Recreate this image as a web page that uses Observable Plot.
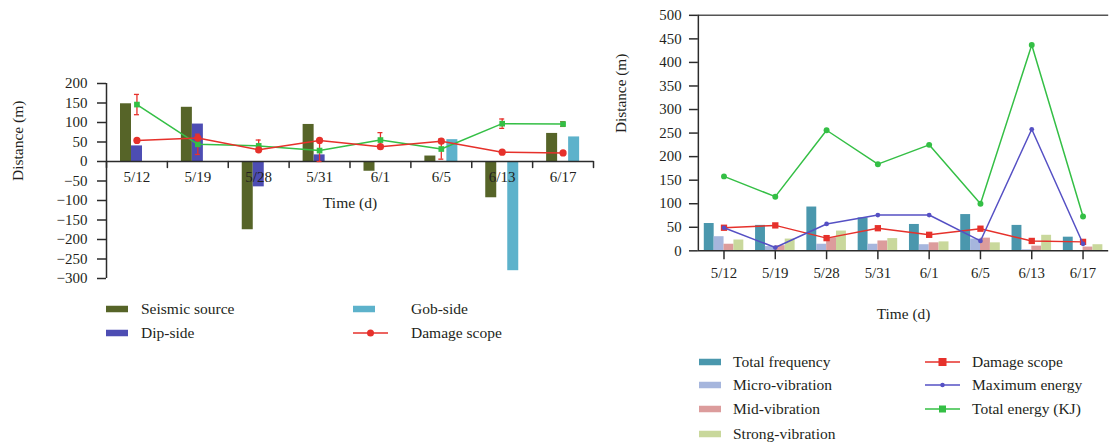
<!DOCTYPE html>
<html>
<head>
<meta charset="utf-8">
<script src="https://cdn.jsdelivr.net/npm/d3@7"></script>
<script src="https://cdn.jsdelivr.net/npm/@observablehq/plot@0.6"></script>
<style>
  html, body { margin: 0; padding: 0; background: #fff; overflow: hidden; }
  #wrap { position: relative; width: 1109px; height: 445px; overflow: hidden;
          font-family: "Liberation Serif", "Times New Roman", serif; color: #231f20; }
  #left, #right { position: absolute; top: 0; }
  #left { left: 0; }
  #right { left: 600px; }
  .sw { position: absolute; transform: translateY(-50%); display: block; }
  .lab { position: absolute; transform: translateY(-50%); font-size: 15.5px; line-height: 1; white-space: nowrap; }
</style>
</head>
<body>
<div id="wrap">
  <div id="left"></div>
  <div id="right"></div>
  <div id="legendLeft"></div>
  <div id="legendRight"></div>
</div>
<script>
// Monitoring dates shared by both panels
const dates = ["5/12", "5/19", "5/28", "5/31", "6/1", "6/5", "6/13", "6/17"];

// Left panel: source location offsets (m)
const seismicSource = [148, 139, -175, 95, -25, 14, -93, 72];
const dipSide       = [40, 96, -65, 17, 0, 0, 0, 0];
const gobSide       = [0, 0, 0, 0, 0, 56, -280, 63];
const damageScope   = [54, 60, 30, 54, 38, 52, 24, 22];
const meanDistance  = [146, 44, 40, 28, 55, 32, 97, 96];
const meanError     = [26, 26, 15, 28, 19, 26, 12, 6];

// Right panel: microseismic statistics
const totalFrequency  = [58, 54, 93, 70, 56, 77, 54, 29];
const microVibration  = [30, 9, 14, 14, 13, 25, 2, 0];
const midVibration    = [14, 11, 28, 21, 17, 27, 10, 8];
const strongVibration = [23, 25, 42, 26, 19, 17, 33, 13];
const damageScope2    = [49, 54, 27, 48, 34, 47, 21, 19];
const maximumEnergy   = [49, 7, 57, 76, 76, 21, 258, 15];
const totalEnergy     = [158, 115, 256, 184, 225, 100, 437, 73];

const C = {
  seismic: "#566428", dip: "#4d4db3", gob: "#5db2cb",
  red: "#e6312b", green: "#34bf45", blue: "#5550c4",
  total: "#4a97ad", micro: "#a6b6dd", mid: "#dc9c9c", strong: "#c9d89c",
  axis: "#2b2b2b"
};
const FONT = "Liberation Serif, Times New Roman, serif";

// ---------- Left panel ----------
const leftRows = dates.map((date, i) => ({
  date, seismic: seismicSource[i], dip: dipSide[i], gob: gobSide[i],
  damage: damageScope[i], mean: meanDistance[i], err: meanError[i]
}));
const LW = 600, LML = 106, LMR = 7;
const LBW = (LW - LML - LMR) / dates.length;
const tickShape = { draw(context, l) { context.moveTo(0, 0); context.lineTo(0, -l); } };

const left = Plot.plot({
  width: LW, height: 290,
  marginLeft: LML, marginRight: LMR, marginTop: 83, marginBottom: 12,
  style: { fontFamily: FONT, fontSize: "15px", color: "#231f20", background: "transparent" },
  x: { type: "band", domain: dates, padding: 0, round: false, axis: null },
  y: { domain: [-300, 200], axis: null },
  marks: [
    Plot.barY(leftRows.filter(d => d.seismic !== 0), { x: "date", y: "seismic", fill: C.seismic, insetLeft: 14, insetRight: LBW - 25 }),
    Plot.barY(leftRows.filter(d => d.dip !== 0), { x: "date", y: "dip", fill: C.dip, insetLeft: 25, insetRight: LBW - 36 }),
    Plot.barY(leftRows.filter(d => d.gob !== 0), { x: "date", y: "gob", fill: C.gob, insetLeft: 36, insetRight: LBW - 47 }),
    Plot.ruleY([0], { stroke: C.axis, strokeWidth: 1.5 }),
    Plot.ruleX([dates[0]], { x: d => d, y1: -300, y2: 200, dx: -LBW / 2, stroke: C.axis, strokeWidth: 1.5 }),
    Plot.axisY({ ticks: d3.range(-300, 201, 50), tickSize: 9, tickPadding: 10, label: null, stroke: C.axis, strokeWidth: 1.5 }),
    Plot.vector(dates, { x: d => d, y: () => 0, length: 6, rotate: 180, anchor: "start", dx: -LBW / 2, shape: tickShape, stroke: C.axis, strokeWidth: 1.5 }),
    Plot.vector([dates[dates.length - 1]], { x: d => d, y: () => 0, length: 6, rotate: 180, anchor: "start", dx: LBW / 2, shape: tickShape, stroke: C.axis, strokeWidth: 1.5 }),
    Plot.text(dates, { x: d => d, y: () => 0, dy: 16, text: d => d }),
    Plot.text(["Time (d)"], { y: () => 0, dy: 42, frameAnchor: "middle", text: d => d, fontSize: 15.5 }),
    Plot.text(["Distance (m)"], { frameAnchor: "left", dx: -88, rotate: -90, text: d => d, fontSize: 15.5 }),
    // averaged distance with error bars
    Plot.line(leftRows, { x: "date", y: "mean", stroke: C.green, strokeWidth: 1.5 }),
    Plot.ruleX(leftRows, { x: "date", y1: d => d.mean - d.err, y2: d => d.mean + d.err, stroke: C.red, strokeWidth: 1.3 }),
    Plot.tickY(leftRows, { x: "date", y: d => d.mean - d.err, stroke: C.red, strokeWidth: 1.3, insetLeft: (LBW - 5) / 2, insetRight: (LBW - 5) / 2 }),
    Plot.tickY(leftRows, { x: "date", y: d => d.mean + d.err, stroke: C.red, strokeWidth: 1.3, insetLeft: (LBW - 5) / 2, insetRight: (LBW - 5) / 2 }),
    Plot.dot(leftRows, { x: "date", y: "mean", symbol: "square", r: 3.2, fill: C.green }),
    // damage scope
    Plot.line(leftRows, { x: "date", y: "damage", stroke: C.red, strokeWidth: 1.5 }),
    Plot.dot(leftRows, { x: "date", y: "damage", r: 3.6, fill: C.red })
  ]
});
document.getElementById("left").appendChild(left);

// ---------- Right panel ----------
const rightRows = dates.map((date, i) => ({
  date, total: totalFrequency[i], micro: microVibration[i], mid: midVibration[i], strong: strongVibration[i],
  damage: damageScope2[i], maxE: maximumEnergy[i], totE: totalEnergy[i]
}));
const RW = 515, RML = 99, RMR = 0.8;
const RBW = (RW - RML - RMR) / dates.length;

const right = Plot.plot({
  width: RW, height: 330,
  marginLeft: RML, marginRight: RMR, marginTop: 15, marginBottom: 76.7,
  style: { fontFamily: FONT, fontSize: "15px", color: "#231f20", background: "transparent", overflow: "visible" },
  x: { type: "band", domain: dates, padding: 0, round: false, axis: null },
  y: { domain: [0, 500], axis: null },
  marks: [
    Plot.barY(rightRows, { x: "date", y: "total", fill: C.total, insetLeft: 6, insetRight: RBW - 16 }),
    Plot.barY(rightRows, { x: "date", y: "micro", fill: C.micro, insetLeft: 16, insetRight: RBW - 26 }),
    Plot.barY(rightRows, { x: "date", y: "mid", fill: C.mid, insetLeft: 26, insetRight: RBW - 36 }),
    Plot.barY(rightRows, { x: "date", y: "strong", fill: C.strong, insetLeft: 36, insetRight: RBW - 46 }),
    Plot.ruleY([500], { stroke: "#555", strokeWidth: 1.5 }),
    Plot.ruleY([0], { stroke: C.axis, strokeWidth: 1.5 }),
    Plot.ruleX([dates[0]], { x: d => d, y1: 0, y2: 500, dx: -RBW / 2, stroke: C.axis, strokeWidth: 1.5 }),
    Plot.axisY({ ticks: d3.range(0, 501, 50), tickSize: 9, tickPadding: 8, label: null, stroke: C.axis, strokeWidth: 1.5 }),
    Plot.axisX({ tickSize: 9, tickPadding: 8, label: null, stroke: C.axis, strokeWidth: 1.5 }),
    Plot.text(["Time (d)"], { frameAnchor: "bottom", dy: 68.7, text: d => d, fontSize: 15.5 }),
    Plot.text(["Distance (m)"], { frameAnchor: "left", dx: -78, rotate: -90, text: d => d, fontSize: 15.5 }),
    Plot.line(rightRows, { x: "date", y: "totE", stroke: C.green, strokeWidth: 1.5 }),
    Plot.dot(rightRows, { x: "date", y: "totE", r: 3, fill: C.green }),
    Plot.line(rightRows, { x: "date", y: "damage", stroke: C.red, strokeWidth: 1.5 }),
    Plot.dot(rightRows, { x: "date", y: "damage", symbol: "square", r: 3.6, fill: C.red }),
    Plot.line(rightRows, { x: "date", y: "maxE", stroke: C.blue, strokeWidth: 1.5 }),
    Plot.dot(rightRows, { x: "date", y: "maxE", r: 2.4, fill: C.blue })
  ]
});
document.getElementById("right").appendChild(right);

// ---------- Legends ----------
function swatchSvg(item) {
  const ns = "http://www.w3.org/2000/svg";
  const svg = document.createElementNS(ns, "svg");
  if (item.kind === "bar") {
    svg.setAttribute("width", 22); svg.setAttribute("height", 7);
    const r = document.createElementNS(ns, "rect");
    r.setAttribute("width", 22); r.setAttribute("height", 7); r.setAttribute("fill", item.color);
    svg.appendChild(r);
  } else {
    svg.setAttribute("width", 35); svg.setAttribute("height", 10);
    const l = document.createElementNS(ns, "line");
    l.setAttribute("x1", 0); l.setAttribute("x2", 35); l.setAttribute("y1", 5); l.setAttribute("y2", 5);
    l.setAttribute("stroke", item.color); l.setAttribute("stroke-width", 1.5);
    svg.appendChild(l);
    let m;
    if (item.marker === "square") {
      m = document.createElementNS(ns, "rect");
      m.setAttribute("x", 17.5 - item.size / 2); m.setAttribute("y", 5 - item.size / 2);
      m.setAttribute("width", item.size); m.setAttribute("height", item.size);
    } else {
      m = document.createElementNS(ns, "circle");
      m.setAttribute("cx", 17.5); m.setAttribute("cy", 5); m.setAttribute("r", item.size / 2);
    }
    m.setAttribute("fill", item.color);
    svg.appendChild(m);
  }
  return svg;
}
function legend(target, items) {
  const host = document.getElementById(target);
  for (const it of items) {
    const sw = swatchSvg(it);
    sw.classList.add("sw");
    sw.style.left = it.sx + "px"; sw.style.top = it.y + "px";
    host.appendChild(sw);
    const t = document.createElement("span");
    t.className = "lab"; t.textContent = it.label;
    t.style.left = it.tx + "px"; t.style.top = it.y + "px";
    host.appendChild(t);
  }
}
legend("legendLeft", [
  { kind: "bar", color: C.seismic, label: "Seismic source", sx: 106, tx: 141, y: 309 },
  { kind: "bar", color: C.dip, label: "Dip-side", sx: 106, tx: 141, y: 333 },
  { kind: "bar", color: C.gob, label: "Gob-side", sx: 353, tx: 411, y: 309 },
  { kind: "line", color: C.red, marker: "circle", size: 7, label: "Damage scope", sx: 353, tx: 411, y: 333 }
]);
legend("legendRight", [
  { kind: "bar", color: C.total, label: "Total frequency", sx: 699, tx: 733, y: 362 },
  { kind: "bar", color: C.micro, label: "Micro-vibration", sx: 699, tx: 733, y: 385 },
  { kind: "bar", color: C.mid, label: "Mid-vibration", sx: 699, tx: 733, y: 409 },
  { kind: "bar", color: C.strong, label: "Strong-vibration", sx: 699, tx: 733, y: 434 },
  { kind: "line", color: C.red, marker: "square", size: 8, label: "Damage scope", sx: 925, tx: 972, y: 362 },
  { kind: "line", color: C.blue, marker: "circle", size: 4.5, label: "Maximum energy", sx: 925, tx: 972, y: 385 },
  { kind: "line", color: C.green, marker: "square", size: 7, label: "Total energy (KJ)", sx: 925, tx: 972, y: 409 }
]);
</script>
</body>
</html>
